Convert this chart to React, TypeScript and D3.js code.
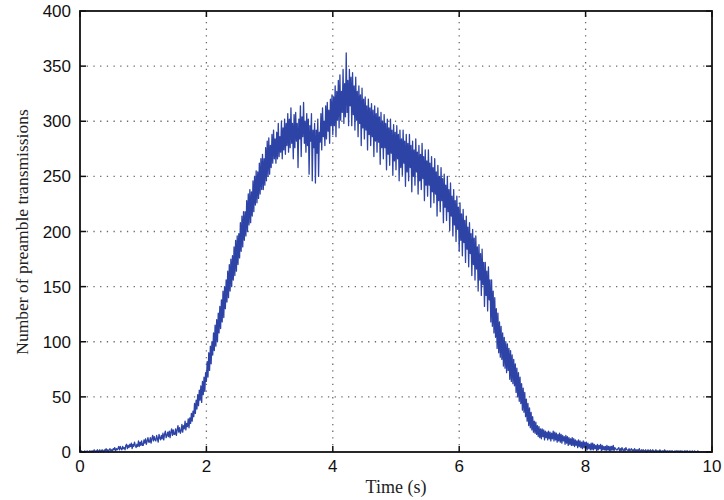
import React, { useEffect, useRef } from "react";
import * as d3 from "d3";

// Sampling interval of the measured series (seconds)
const timeStep = 0.0125;

// Number of preamble transmissions, 8 samples per 0.1 s
const preambleTx: number[] = [
  // 0.0 – 1.0 s
  0, 0, 1, 0, 0, 0, 1, 0,
  0, 1, 0, 0, 1, 0, 1, 0,
  1, 0, 2, 1, 0, 1, 2, 0,
  1, 2, 0, 1, 2, 1, 0, 2,
  1, 3, 1, 2, 0, 2, 3, 1,
  2, 1, 3, 2, 4, 1, 3, 2,
  3, 5, 2, 5, 3, 2, 5, 3,
  4, 2, 6, 7, 3, 6, 4, 7,
  5, 8, 3, 7, 5, 9, 6, 4,
  7, 5, 10, 5, 9, 6, 10, 6,
  // 1.0 – 2.0 s
  6, 11, 8, 12, 7, 10, 13, 9,
  9, 13, 8, 12, 15, 10, 14, 11,
  10, 15, 12, 9, 16, 13, 11, 15,
  12, 17, 11, 16, 19, 13, 15, 18,
  14, 19, 13, 18, 21, 15, 20, 16,
  16, 21, 15, 20, 24, 18, 22, 17,
  19, 25, 18, 24, 21, 28, 20, 26,
  23, 30, 22, 31, 26, 35, 28, 37,
  32, 44, 35, 47, 39, 52, 42, 56,
  47, 60, 45, 64, 52, 68, 55, 72,
  // 2.0 – 3.0 s
  64, 82, 68, 90, 74, 96, 80, 100,
  88, 108, 92, 115, 96, 120, 100, 126,
  108, 132, 112, 138, 118, 146, 122, 150,
  130, 156, 136, 164, 140, 170, 146, 175,
  150, 178, 156, 186, 160, 192, 164, 196,
  170, 198, 176, 208, 182, 214, 186, 218,
  192, 218, 196, 228, 200, 234, 206, 238,
  208, 236, 214, 246, 218, 250, 224, 255,
  226, 254, 230, 262, 234, 266, 238, 270,
  238, 266, 242, 276, 246, 282, 250, 285,
  // 3.0 – 4.0 s
  252, 278, 258, 288, 262, 292, 266, 284,
  262, 290, 266, 298, 268, 286, 272, 300,
  266, 294, 274, 302, 270, 298, 278, 307,
  272, 302, 276, 312, 280, 298, 266, 306,
  276, 308, 282, 298, 258, 302, 284, 314,
  268, 304, 286, 317, 280, 300, 272, 307,
  278, 302, 252, 296, 282, 307, 246, 292,
  276, 298, 244, 292, 271, 302, 250, 290,
  281, 307, 274, 312, 286, 300, 278, 314,
  284, 317, 291, 310, 280, 320, 296, 324,
  // 4.0 – 5.0 s
  288, 322, 296, 332, 286, 327, 301, 337,
  294, 342, 301, 327, 308, 347, 298, 334,
  304, 362, 308, 337, 296, 347, 314, 340,
  296, 344, 306, 332, 292, 340, 301, 327,
  286, 332, 298, 324, 278, 330, 294, 320,
  284, 322, 292, 314, 274, 320, 288, 312,
  278, 316, 286, 310, 268, 314, 282, 307,
  272, 312, 281, 304, 261, 308, 276, 300,
  266, 306, 276, 298, 256, 302, 270, 294,
  260, 302, 271, 292, 251, 297, 264, 290,
  // 5.0 – 6.0 s
  256, 296, 266, 288, 246, 292, 258, 284,
  251, 292, 262, 282, 241, 288, 254, 280,
  246, 288, 258, 278, 236, 282, 250, 274,
  242, 284, 254, 272, 234, 278, 246, 270,
  238, 280, 248, 268, 228, 274, 242, 264,
  232, 274, 242, 262, 222, 268, 236, 258,
  226, 266, 234, 254, 214, 260, 228, 250,
  218, 258, 228, 248, 208, 252, 222, 242,
  210, 250, 218, 238, 201, 244, 214, 232,
  196, 238, 206, 228, 191, 232, 202, 222,
  // 6.0 – 7.0 s
  182, 226, 192, 216, 178, 220, 190, 210,
  172, 214, 184, 204, 168, 208, 180, 198,
  160, 202, 170, 194, 156, 196, 166, 186,
  146, 188, 156, 180, 142, 184, 152, 172,
  132, 172, 142, 164, 128, 168, 138, 156,
  118, 156, 114, 146, 108, 140, 104, 130,
  94, 126, 90, 118, 86, 114, 84, 108,
  78, 104, 76, 100, 72, 98, 74, 94,
  66, 92, 64, 88, 62, 84, 60, 80,
  54, 76, 50, 72, 46, 68, 44, 62,
  // 7.0 – 8.0 s
  38, 58, 36, 54, 32, 48, 28, 44,
  24, 40, 22, 36, 20, 32, 18, 28,
  17, 27, 16, 24, 14, 23, 13, 21,
  12, 21, 14, 20, 11, 19, 13, 18,
  11, 19, 12, 18, 10, 17, 12, 19,
  10, 18, 11, 17, 9, 16, 10, 17,
  9, 16, 8, 15, 10, 14, 7, 15,
  8, 14, 6, 13, 7, 12, 6, 13,
  6, 12, 5, 11, 6, 10, 4, 11,
  5, 10, 4, 9, 3, 10, 4, 9,
  // 8.0 – 9.0 s
  3, 9, 2, 8, 3, 7, 2, 8,
  2, 8, 2, 7, 3, 6, 1, 7,
  2, 6, 3, 7, 1, 6, 2, 5,
  2, 5, 1, 6, 2, 5, 1, 5,
  1, 5, 2, 6, 1, 4, 3, 2,
  2, 3, 4, 1, 3, 1, 4, 2,
  1, 3, 1, 4, 2, 2, 1, 3,
  1, 2, 3, 1, 2, 1, 3, 1,
  2, 1, 2, 1, 3, 1, 1, 2,
  1, 2, 1, 1, 2, 0, 1, 2,
  // 9.0 – 10.0 s
  1, 1, 2, 0, 1, 2, 1, 0,
  1, 2, 0, 1, 1, 0, 2, 1,
  0, 1, 1, 0, 2, 1, 0, 1,
  1, 0, 1, 1, 0, 1, 1, 0,
  0, 1, 0, 1, 1, 0, 1, 0,
  1, 0, 1, 0, 0, 1, 0, 1,
  0, 1, 0, 0, 1, 0, 0, 1,
  0, 0, 1, 0, 0, 0, 1, 0,
  0, 0, 0, 0, 0, 0, 0, 0,
  0, 0, 0, 0, 0, 0, 0, 0,
  0,
];

const xTicks = [0, 2, 4, 6, 8, 10];
const yTicks = [0, 50, 100, 150, 200, 250, 300, 350, 400];
const xTitle = "Time (s)";
const yTitle = "Number of preamble transmissions";

const W = 724;
const H = 500;
const M = { left: 80, right: 12, top: 11, bottom: 48 };

export default function App() {
  const ref = useRef<SVGSVGElement | null>(null);

  useEffect(() => {
    const svg = d3.select(ref.current);
    svg.selectAll("*").remove();

    const x = d3.scaleLinear().domain([0, 10]).range([M.left, W - M.right]);
    const y = d3.scaleLinear().domain([0, 400]).range([H - M.bottom, M.top]);

    svg.append("rect").attr("width", W).attr("height", H).attr("fill", "#ffffff");

    const grid = svg.append("g");
    xTicks.slice(1, -1).forEach((t) => {
      grid.append("line")
        .attr("x1", x(t)).attr("x2", x(t))
        .attr("y1", y(0)).attr("y2", y(400))
        .attr("stroke", "#6a6a6a").attr("stroke-width", 1.3)
        .attr("stroke-dasharray", "1.3,5.4");
    });
    yTicks.slice(1, -1).forEach((t) => {
      grid.append("line")
        .attr("x1", x(0)).attr("x2", x(10))
        .attr("y1", y(t)).attr("y2", y(t))
        .attr("stroke", "#6a6a6a").attr("stroke-width", 1.3)
        .attr("stroke-dasharray", "1.3,5.4");
    });

    const line = d3.line<number>()
      .x((_, i) => x(i * timeStep))
      .y((d) => y(d));

    svg.append("path")
      .datum(preambleTx)
      .attr("d", line)
      .attr("fill", "none")
      .attr("stroke", "#2d43a6")
      .attr("stroke-width", 1.3)
      .attr("stroke-linejoin", "round");

    // frame
    svg.append("rect")
      .attr("x", x(0)).attr("y", y(400))
      .attr("width", x(10) - x(0)).attr("height", y(0) - y(400))
      .attr("fill", "none").attr("stroke", "#111").attr("stroke-width", 1.8);

    const tickLen = 6;
    const ticks = svg.append("g").attr("stroke", "#111").attr("stroke-width", 1.5);
    xTicks.forEach((t) => {
      ticks.append("line").attr("x1", x(t)).attr("x2", x(t)).attr("y1", y(0)).attr("y2", y(0) - tickLen);
      ticks.append("line").attr("x1", x(t)).attr("x2", x(t)).attr("y1", y(400)).attr("y2", y(400) + tickLen);
    });
    yTicks.forEach((t) => {
      ticks.append("line").attr("x1", x(0)).attr("x2", x(0) + tickLen).attr("y1", y(t)).attr("y2", y(t));
      ticks.append("line").attr("x1", x(10)).attr("x2", x(10) - tickLen).attr("y1", y(t)).attr("y2", y(t));
    });

    const labels = svg.append("g")
      .attr("font-family", "'Liberation Sans', Arial, sans-serif")
      .attr("font-size", 17)
      .attr("fill", "#111");
    xTicks.forEach((t) => {
      labels.append("text")
        .attr("x", x(t)).attr("y", y(0) + 20)
        .attr("text-anchor", "middle")
        .text(String(t));
    });
    yTicks.forEach((t) => {
      labels.append("text")
        .attr("x", x(0) - 9).attr("y", y(t) + 6)
        .attr("text-anchor", "end")
        .text(String(t));
    });

    svg.append("text")
      .attr("x", (x(0) + x(10)) / 2).attr("y", 493)
      .attr("text-anchor", "middle")
      .attr("font-family", "'Liberation Serif', 'Times New Roman', serif")
      .attr("font-size", 18)
      .attr("fill", "#222")
      .text(xTitle);

    svg.append("text")
      .attr("transform", `translate(28, 232) rotate(-90)`)
      .attr("text-anchor", "middle")
      .attr("font-family", "'Liberation Serif', 'Times New Roman', serif")
      .attr("font-size", 17.5)
      .attr("fill", "#222")
      .text(yTitle);
  }, []);

  return (
    <svg
      ref={ref}
      width={W}
      height={H}
      style={{ display: "block", position: "absolute", left: 0, top: 0 }}
    />
  );
}
